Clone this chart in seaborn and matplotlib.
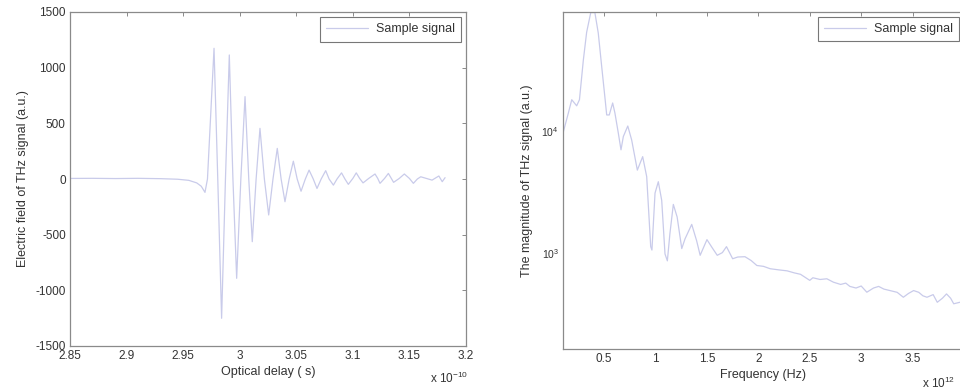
import matplotlib
matplotlib.use("Agg")
import matplotlib.pyplot as plt
import seaborn as sns
import pandas as pd
from matplotlib.ticker import LogLocator, NullFormatter

# ---- data: time-domain THz signal (x in units of 1e-10 s) ----
delay = [2.850, 2.870, 2.890, 2.910, 2.930, 2.945, 2.955, 2.962, 2.966, 2.9693,
         2.9715, 2.9773, 2.9806, 2.9840, 2.9874, 2.9908, 2.9940, 2.9973, 3.0010,
         3.0047, 3.0080, 3.0111, 3.0145, 3.0179, 3.0218, 3.0256, 3.0294, 3.0332,
         3.0366, 3.0400, 3.0437, 3.0474, 3.0508, 3.0542, 3.0580, 3.0613, 3.0650,
         3.0683, 3.0720, 3.0760, 3.0790, 3.0828, 3.0860, 3.0900, 3.0930, 3.0960,
         3.1000, 3.1030, 3.1060, 3.1090, 3.1140, 3.1196, 3.1220, 3.1240, 3.1280,
         3.1314, 3.1340, 3.1360, 3.1410, 3.1455, 3.1500, 3.1535, 3.1570, 3.1600,
         3.1650, 3.1700, 3.1760, 3.1790, 3.1815]
field = [5, 6, 4, 6, 3, -2, -12, -35, -65, -120,
         0, 1174, 0, -1251, 0, 1114, 0, -892, 0,
         740, 0, -563, 0, 455, 0, -323, 0, 275,
         0, -204, 0, 160, 0, -110, 0, 80, 0,
         -85, 0, 75, 0, -55, 0, 55, 0, -48,
         5, 55, 5, -35, 5, 45, 5, -39, 5,
         50, 5, -30, 5, 45, 5, -39, 0, 20,
         5, -10, 27, -24, 12]

# ---- data: spectrum magnitude (x in units of 1e12 Hz) ----
freq = [0.100, 0.152, 0.185, 0.233, 0.260, 0.298, 0.330, 0.370, 0.410, 0.443,
        0.476, 0.510, 0.525, 0.550, 0.583, 0.605, 0.638, 0.664, 0.687, 0.730,
        0.768, 0.823, 0.875, 0.914, 0.953, 0.965, 0.995, 1.027, 1.060, 1.092,
        1.115, 1.140, 1.173, 1.210, 1.255, 1.287, 1.352, 1.400, 1.434, 1.500,
        1.550, 1.600, 1.650, 1.690, 1.750, 1.800, 1.870, 1.930, 1.985, 2.050,
        2.115, 2.200, 2.280, 2.350, 2.410, 2.500, 2.530, 2.600, 2.666, 2.730,
        2.800, 2.850, 2.890, 2.950, 3.000, 3.055, 3.120, 3.170, 3.220, 3.280,
        3.350, 3.410, 3.460, 3.510, 3.560, 3.600, 3.640, 3.700, 3.740, 3.790,
        3.830, 3.870, 3.900, 3.960, 4.000]
magnitude = [9700, 14200, 18300, 16300, 18300, 39000, 66000, 96000, 96000, 65000,
             34600, 18300, 13700, 13700, 17200, 14200, 9700, 7060, 9100, 11100,
             8500, 4800, 6200, 4240, 1120, 1050, 3100, 3850, 2700, 975,
             855, 1440, 2500, 1970, 1080, 1300, 1710, 1250, 950, 1280,
             1100, 950, 1000, 1120, 890, 920, 925, 860, 783, 770,
             736, 720, 707, 680, 662, 590, 620, 600, 608, 570,
             546, 560, 526, 510, 530, 471, 510, 526, 500, 486,
             470, 428, 460, 486, 470, 440, 428, 450, 389, 420,
             456, 420, 378, 389, 380]

x1_ticks = [2.85, 2.9, 2.95, 3.0, 3.05, 3.1, 3.15, 3.2]
x1_labels = ["2.85", "2.9", "2.95", "3", "3.05", "3.1", "3.15", "3.2"]
y1_ticks = [-1500, -1000, -500, 0, 500, 1000, 1500]
x2_ticks = [0.5, 1.0, 1.5, 2.0, 2.5, 3.0, 3.5, 4.0]
x2_labels = ["0.5", "1", "1.5", "2", "2.5", "3", "3.5", ""]

sns.set_theme(style="white")
plt.rcParams["font.family"] = ["Liberation Sans", "DejaVu Sans"]
plt.rcParams["mathtext.fontset"] = "custom"
plt.rcParams["mathtext.rm"] = "Liberation Sans"
plt.rcParams["mathtext.it"] = "Liberation Sans"
plt.rcParams["axes.unicode_minus"] = False

LINE = "#c9cbea"
SPINE = "#8a8a8a"
TXT = "#333333"
FS = 8.5
LFS = 9.0

fig = plt.figure(figsize=(9.6, 3.92), dpi=100)
ax1 = fig.add_axes([70 / 960, 1 - 346 / 392, 396 / 960, 334 / 392])
ax2 = fig.add_axes([563 / 960, 1 - 349 / 392, 401 / 960, 337 / 392])

df1 = pd.DataFrame({"delay": delay, "field": field})
df2 = pd.DataFrame({"freq": freq, "magnitude": magnitude})

sns.lineplot(data=df1, x="delay", y="field", ax=ax1, color=LINE, lw=0.9,
             estimator=None, sort=False, label="Sample signal")
sns.lineplot(data=df2, x="freq", y="magnitude", ax=ax2, color=LINE, lw=0.9,
             estimator=None, sort=False, label="Sample signal")

for ax in (ax1, ax2):
    for s in ax.spines.values():
        s.set_color(SPINE)
        s.set_linewidth(0.9)
    ax.tick_params(which="both", direction="in", top=True, right=True,
                   colors=SPINE, labelcolor=TXT, labelsize=FS, length=3, width=0.7,
                   pad=3)
    leg = ax.legend(loc="upper right", fontsize=LFS, frameon=True, fancybox=False,
                    handlelength=3.4, borderpad=0.5, borderaxespad=0.4,
                    handletextpad=0.6, edgecolor="#555555")
    leg.get_frame().set_linewidth(0.8)
    for t in leg.get_texts():
        t.set_color(TXT)

ax1.set_xlim(2.85, 3.2)
ax1.set_ylim(-1500, 1500)
ax1.set_xticks(x1_ticks)
ax1.set_xticklabels(x1_labels)
ax1.set_yticks(y1_ticks)
ax1.set_xlabel("Optical delay ( s)", fontsize=LFS, color=TXT, labelpad=3)
ax1.set_ylabel("Electric field of THz signal (a.u.)", fontsize=LFS, color=TXT, labelpad=5)

ax2.set_yscale("log")
ax2.set_xlim(0.1, 4.0)
ax2.set_ylim(160, 97000)
ax2.set_xticks(x2_ticks)
ax2.set_xticklabels(x2_labels)
ax2.yaxis.set_minor_locator(LogLocator(base=10, subs=range(2, 10)))
ax2.yaxis.set_minor_formatter(NullFormatter())
ax2.tick_params(axis="y", which="major", labelsize=7.5)
ax2.set_xlabel("Frequency (Hz)", fontsize=LFS, color=TXT, labelpad=3)
ax2.set_ylabel("The magnitude of THz signal (a.u.)", fontsize=LFS, color=TXT, labelpad=6)

fig.text(430 / 960, 1 - 378 / 392, r"x 10$^{-10}$", fontsize=FS, color=TXT, va="center")
fig.text(922 / 960, 1 - 383 / 392, r"x 10$^{12}$", fontsize=FS, color=TXT, va="center")

fig.savefig("out.png", dpi=100, facecolor="white")
